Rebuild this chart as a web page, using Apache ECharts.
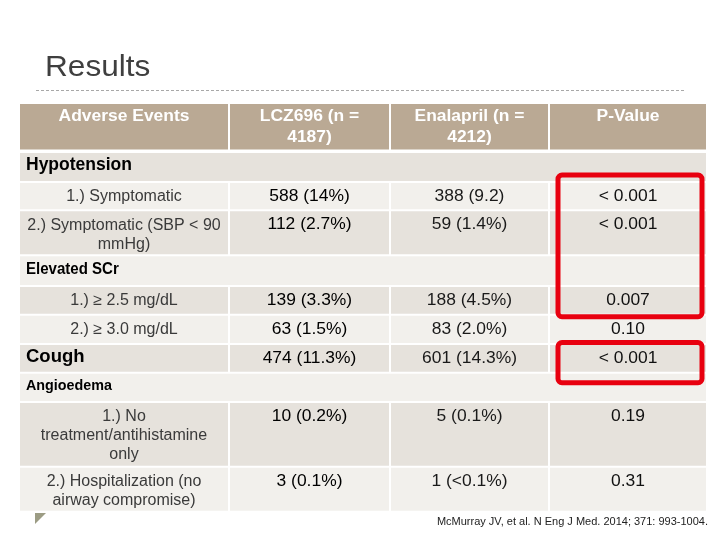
<!DOCTYPE html>
<html>
<head>
<meta charset="utf-8">
<script src="https://cdn.jsdelivr.net/npm/echarts@6/dist/echarts.min.js"></script>
<style>html,body{margin:0;padding:0;background:#fff}#chart{width:720px;height:540px}</style>
</head>
<body>
<div id="chart"></div>
<script>
// ---------- DATA ----------
const titleText = 'Results';
const headers = ['Adverse Events', 'LCZ696 (n =\n4187)', 'Enalapril (n =\n4212)', 'P-Value'];
const events = [
  'Hypotension',
  '1.) Symptomatic',
  '2.) Symptomatic (SBP < 90\nmmHg)',
  'Elevated SCr',
  '1.) \u2265 2.5 mg/dL',
  '2.) \u2265 3.0 mg/dL',
  'Cough',
  'Angioedema',
  '1.) No\ntreatment/antihistamine\nonly',
  '2.) Hospitalization (no\nairway compromise)'
];
const eventKind = ['section', 'item', 'item', 'section', 'item', 'item', 'group', 'section', 'item', 'item'];
const lcz = [null, '588 (14%)', '112 (2.7%)', null, '139 (3.3%)', '63 (1.5%)', '474 (11.3%)', null, '10 (0.2%)', '3 (0.1%)'];
const enalapril = [null, '388 (9.2)', '59 (1.4%)', null, '188 (4.5%)', '83 (2.0%)', '601 (14.3%)', null, '5 (0.1%)', '1 (<0.1%)'];
const pValues = [null, '< 0.001', '< 0.001', null, '0.007', '0.10', '< 0.001', null, '0.19', '0.31'];
const highlightRows = [[1, 4], [6, 6]]; // event index ranges whose P-values are outlined
const sourceText = 'McMurray JV, et al. N Eng J Med. 2014; 371: 993-1004.';

// ---------- LAYOUT / STYLE ----------
const COL_W = [210, 161, 159, 158];
const ROW_H = [49, 30, 28.3, 45, 30.7, 28.7, 29.3, 28.7, 29.3, 64.7, 45];
const LABEL_SIZE = [17.5, 16, 16, 16, 16, 16, 18.5, 15, 16, 16];
const LABEL_SCALE = [1, 1, 1, 0.94, 1, 1, 1, 0.955, 1, 1];
const BOX_PAD = [{ top: 7, bottom: 2 }, { top: 1.5, bottom: 10 }];
const FONT = "'Liberation Sans', Arial, sans-serif";
const STRETCH = 1.09;
const GAP = 2;
const HEADER_BG = '#BAA994';
const DARK_BG = '#E6E2DC';
const LIGHT_BG = '#F2F0EC';

const colX = [0]; COL_W.forEach(w => colX.push(colX[colX.length - 1] + w));
const rowY = [0]; ROW_H.forEach(h => rowY.push(rowY[rowY.length - 1] + h));
const TOTAL_W = colX[colX.length - 1];
const TOTAL_H = rowY[rowY.length - 1];

const cells = [];
headers.forEach((t, c) => cells.push({ value: [c, 0, c + 1], text: t, role: 'header' }));
events.forEach((label, i) => {
  const r = i + 1;
  if (eventKind[i] === 'section') {
    cells.push({ value: [0, r, 4], text: label, role: 'label', size: LABEL_SIZE[i], sx: LABEL_SCALE[i] });
    return;
  }
  cells.push({ value: [0, r, 1], text: label, role: eventKind[i] === 'group' ? 'label' : 'item', size: LABEL_SIZE[i], sx: LABEL_SCALE[i] });
  cells.push({ value: [1, r, 2], text: lcz[i], role: 'value', color: '#000' });
  cells.push({ value: [2, r, 3], text: enalapril[i], role: 'value', color: '#1a1a1a' });
  cells.push({ value: [3, r, 4], text: pValues[i], role: 'value', color: '#111' });
});

function renderCell(params, api) {
  const cell = cells[params.dataIndex];
  const c0 = api.value(0), r = api.value(1), c1 = api.value(2);
  const p0 = api.coord([colX[c0], rowY[r]]);
  const p1 = api.coord([colX[c1], rowY[r + 1]]);
  const x0 = p0[0], y0 = p0[1], x1 = p1[0], y1 = p1[1];
  const bg = r === 0 ? HEADER_BG : (r % 2 === 1 ? DARK_BG : LIGHT_BG);
  const extraBottom = r === 0 ? 1.5 : 0;
  const children = [{
    type: 'rect',
    shape: { x: x0 + GAP / 2, y: y0 + GAP / 2, width: x1 - x0 - GAP, height: y1 - y0 - GAP - extraBottom },
    style: { fill: bg }
  }];
  const cx = (x0 + x1) / 2;
  if (cell.role === 'header') {
    const F = 16, L = 21;
    children.push({
      type: 'text', x: cx, y: y0 + 8 + 0.37 * F - L / 2, scaleX: STRETCH,
      style: { text: cell.text, x: 0, y: 0, align: 'center', verticalAlign: 'top', lineHeight: L,
        fontFamily: FONT, fontSize: F, fontWeight: 'bold', fill: '#fff' }
    });
  } else if (cell.role === 'label') {
    children.push({
      type: 'text', x: x0 + 7, y: (y0 + y1) / 2 - 1.5, scaleX: cell.sx,
      style: { text: cell.text, x: 0, y: 0, align: 'left', verticalAlign: 'middle',
        fontFamily: FONT, fontSize: cell.size, fontWeight: 'bold', fill: '#000' }
    });
  } else if (cell.role === 'item') {
    const F = cell.size, L = 19;
    children.push({
      type: 'text', x: cx, y: y0 + 9 + 0.37 * F - L / 2,
      style: { text: cell.text, x: 0, y: 0, align: 'center', verticalAlign: 'top', lineHeight: L,
        fontFamily: FONT, fontSize: F, fill: '#3a3a3a' }
    });
  } else if (cell.text) {
    const F = 16, L = 20;
    children.push({
      type: 'text', x: cx, y: y0 + 8.5 + 0.37 * F - L / 2, scaleX: STRETCH,
      style: { text: cell.text, x: 0, y: 0, align: 'center', verticalAlign: 'top', lineHeight: L,
        fontFamily: FONT, fontSize: F, fill: cell.color }
    });
  }
  return { type: 'group', children };
}

const boxes = highlightRows.map((h, k) => ({ value: [3, h[0] + 1, h[1] + 2], pad: BOX_PAD[k] }));
function renderBox(params, api) {
  const b = boxes[params.dataIndex];
  const p0 = api.coord([colX[api.value(0)], rowY[api.value(1)]]);
  const p1 = api.coord([colX[api.value(0) + 1], rowY[api.value(2)]]);
  const left = p0[0] + 9, right = p1[0] - 5;
  const top = p0[1] - b.pad.top, bottom = p1[1] + b.pad.bottom;
  return {
    type: 'rect',
    shape: { x: left, y: top, width: right - left, height: bottom - top, r: 4 },
    style: { fill: null, stroke: '#E8000F', lineWidth: 5 }
  };
}

const chart = echarts.init(document.getElementById('chart'), null, { renderer: 'canvas' });
chart.setOption({
  animation: false,
  backgroundColor: '#fff',
  grid: { left: 19, top: 103, width: TOTAL_W, height: TOTAL_H },
  xAxis: { type: 'value', min: 0, max: TOTAL_W, show: false },
  yAxis: { type: 'value', min: 0, max: TOTAL_H, inverse: true, show: false },
  graphic: [
    { type: 'text', x: 45, y: 68.4, scaleX: STRETCH,
      style: { text: titleText, x: 0, y: 0, align: 'left', verticalAlign: 'middle',
        fontFamily: FONT, fontSize: 29, fill: '#3f3f3f' } },
    { type: 'line', shape: { x1: 36, y1: 90.5, x2: 685, y2: 90.5 },
      style: { stroke: '#A8A8A8', lineWidth: 1, lineDash: [3, 2] } },
    { type: 'polygon', shape: { points: [[35, 513], [46, 513], [35, 524]] },
      style: { fill: '#9C9C84' } },
    { type: 'text', x: 708, y: 522,
      style: { text: sourceText, x: 0, y: 0, align: 'right', verticalAlign: 'middle',
        fontFamily: FONT, fontSize: 11, fill: '#222' } }
  ],
  series: [
    { type: 'custom', coordinateSystem: 'cartesian2d', silent: true, clip: false,
      data: cells, renderItem: renderCell },
    { type: 'custom', coordinateSystem: 'cartesian2d', silent: true, clip: false, z: 5,
      data: boxes, renderItem: renderBox }
  ]
});
</script>
</body>
</html>
